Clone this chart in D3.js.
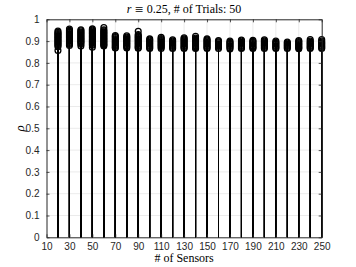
<!DOCTYPE html>
<html>
<head>
<meta charset="utf-8">
<script src="https://cdn.jsdelivr.net/npm/d3@7"></script>
<style>
body { margin:0; background:#fff; }
svg { display:block; }
</style>
</head>
<body>
<script>
let sensors = [20,30,40,50,60,70,80,90,100,110,120,130,140,150,160,170,180,190,200,210,220,230,240,250]

let rho20  = [0.946,0.940,0.935,0.930,0.925,0.920,0.915,0.910,0.905,0.900,0.895,0.890,0.885,0.880,0.874,0.857]
let rho30  = [0.955,0.950,0.945,0.940,0.935,0.930,0.925,0.920,0.915,0.910,0.905,0.900,0.895,0.890,0.885,0.880]
let rho40  = [0.952,0.947,0.942,0.937,0.932,0.927,0.922,0.917,0.912,0.907,0.902,0.897,0.892,0.886,0.877]
let rho50  = [0.956,0.951,0.946,0.941,0.936,0.931,0.926,0.921,0.916,0.911,0.906,0.901,0.896,0.891,0.886,0.881,0.872]
let rho60  = [0.962,0.952,0.947,0.942,0.937,0.932,0.927,0.922,0.917,0.912,0.907,0.902,0.897,0.892,0.887,0.882,0.878]
let rho70  = [0.926,0.921,0.916,0.911,0.906,0.901,0.896,0.891,0.886,0.881,0.876,0.871,0.868]
let rho80  = [0.924,0.919,0.914,0.909,0.904,0.899,0.894,0.889,0.884,0.879,0.874,0.868]
let rho90  = [0.945,0.930,0.925,0.920,0.915,0.910,0.905,0.900,0.895,0.890,0.885,0.880,0.875,0.870,0.867]
let rho100 = [0.910,0.905,0.900,0.895,0.890,0.885,0.880,0.875,0.870,0.866]
let rho110 = [0.918,0.912,0.907,0.902,0.897,0.892,0.887,0.882,0.877,0.872,0.866]
let rho120 = [0.906,0.901,0.896,0.891,0.886,0.881,0.876,0.871,0.866]
let rho130 = [0.915,0.910,0.905,0.900,0.895,0.890,0.885,0.880,0.875,0.870,0.866]
let rho140 = [0.922,0.914,0.909,0.904,0.899,0.894,0.889,0.884,0.879,0.874,0.869,0.866]
let rho150 = [0.910,0.905,0.900,0.895,0.890,0.885,0.880,0.875,0.870,0.866]
let rho160 = [0.902,0.897,0.892,0.887,0.882,0.877,0.872,0.866]
let rho170 = [0.900,0.895,0.890,0.885,0.880,0.875,0.870,0.864]
let rho180 = [0.905,0.900,0.895,0.890,0.885,0.880,0.875,0.870,0.866]
let rho190 = [0.904,0.899,0.894,0.889,0.884,0.879,0.874,0.869,0.866]
let rho200 = [0.906,0.901,0.896,0.891,0.886,0.881,0.876,0.871,0.866]
let rho210 = [0.900,0.895,0.890,0.885,0.880,0.875,0.870,0.866]
let rho220 = [0.896,0.891,0.886,0.881,0.876,0.871,0.866]
let rho230 = [0.903,0.898,0.893,0.888,0.883,0.878,0.873,0.868,0.865]
let rho240 = [0.907,0.900,0.895,0.890,0.885,0.880,0.875,0.870,0.866]
let rho250 = [0.907,0.900,0.895,0.890,0.885,0.880,0.875,0.870,0.866]

let rhoValues = [rho20,rho30,rho40,rho50,rho60,rho70,rho80,rho90,rho100,rho110,rho120,rho130,
                 rho140,rho150,rho160,rho170,rho180,rho190,rho200,rho210,rho220,rho230,rho240,rho250]

let xTicks = [10,30,50,70,90,110,130,150,170,190,210,230,250]
let yTicks = [0,0.1,0.2,0.3,0.4,0.5,0.6,0.7,0.8,0.9,1]

let W = 356, H = 267
let pLeft = 46.5, pRight = 321.7, pTop = 19.3, pBottom = 237.3
let axisColor = "#262626"

let svg = d3.select("body").append("svg")
	.attr("width", W)
	.attr("height", H)

let x = d3.scaleLinear().domain([10,250]).range([pLeft,pRight])
let y = d3.scaleLinear().domain([0,1]).range([pBottom,pTop])

// grid
let grid = svg.append("g")
grid.selectAll(".gy").data(yTicks.slice(1,-1)).enter().append("line")
	.attr("x1", pLeft).attr("x2", pRight)
	.attr("y1", d => y(d)).attr("y2", d => y(d))
	.attr("stroke", "#e6e6e6").attr("stroke-width", 0.8)
grid.selectAll(".gx").data(xTicks.slice(1,-1)).enter().append("line")
	.attr("x1", d => x(d)).attr("x2", d => x(d))
	.attr("y1", pTop).attr("y2", pBottom)
	.attr("stroke", "#e6e6e6").attr("stroke-width", 0.8)

// stems + markers
let pts = []
sensors.forEach((n,i) => {
	rhoValues[i].forEach(v => pts.push({n:n, v:v}))
})

let plot = svg.append("g")
plot.selectAll(".stem").data(pts).enter().append("line")
	.attr("x1", d => x(d.n)).attr("x2", d => x(d.n))
	.attr("y1", y(0)).attr("y2", d => y(d.v))
	.attr("stroke", "#000").attr("stroke-width", 1)
plot.selectAll(".mk").data(pts).enter().append("circle")
	.attr("cx", d => x(d.n)).attr("cy", d => y(d.v))
	.attr("r", 2.9)
	.attr("fill", "none")
	.attr("stroke", "#000").attr("stroke-width", 1.3)

// axes
let fmt = d => d3.format("~g")(d)
let gB = svg.append("g").attr("transform", "translate(0," + pBottom + ")")
	.call(d3.axisBottom(x).tickValues(xTicks).tickSizeInner(-3).tickSizeOuter(0).tickPadding(6))
let gT = svg.append("g").attr("transform", "translate(0," + pTop + ")")
	.call(d3.axisTop(x).tickValues(xTicks).tickSizeInner(-3).tickSizeOuter(0).tickFormat(""))
let gL = svg.append("g").attr("transform", "translate(" + pLeft + ",0)")
	.call(d3.axisLeft(y).tickValues(yTicks).tickSizeInner(-3).tickSizeOuter(0).tickPadding(7).tickFormat(fmt))
let gR = svg.append("g").attr("transform", "translate(" + pRight + ",0)")
	.call(d3.axisRight(y).tickValues(yTicks).tickSizeInner(-3).tickSizeOuter(0).tickFormat(""))

;[gB,gT,gL,gR].forEach(g => {
	g.select(".domain").attr("stroke", axisColor).attr("stroke-width", 1)
	g.selectAll(".tick line").attr("stroke", axisColor).attr("stroke-width", 0.8)
	g.selectAll(".tick text")
		.attr("fill", axisColor)
		.style("font-family", "'Liberation Sans', Arial, sans-serif")
		.style("font-size", "10px")
})

// labels
let serif = "'Liberation Serif', 'DejaVu Serif', serif"
let title = svg.append("text")
	.attr("x", (pLeft + pRight) / 2).attr("y", 12.5)
	.attr("text-anchor", "middle")
	.style("font-family", serif).style("font-size", "12px")
title.append("tspan").style("font-style", "italic").text("r")
title.append("tspan").text(" ")
title.append("tspan").style("font-family", "'DejaVu Serif', serif").style("font-size", "11px").text("\u2261")
title.append("tspan").text(" 0.25, # of Trials: 50")

svg.append("text")
	.attr("x", (pLeft + pRight) / 2).attr("y", 262)
	.attr("text-anchor", "middle")
	.style("font-family", serif).style("font-size", "12px")
	.text("# of Sensors")

svg.append("text")
	.attr("transform", "translate(24," + ((pTop + pBottom) / 2) + ") rotate(-90)")
	.attr("text-anchor", "middle")
	.style("font-family", serif).style("font-size", "13px").style("font-style", "italic")
	.text("\u03c1")
</script>
</body>
</html>
